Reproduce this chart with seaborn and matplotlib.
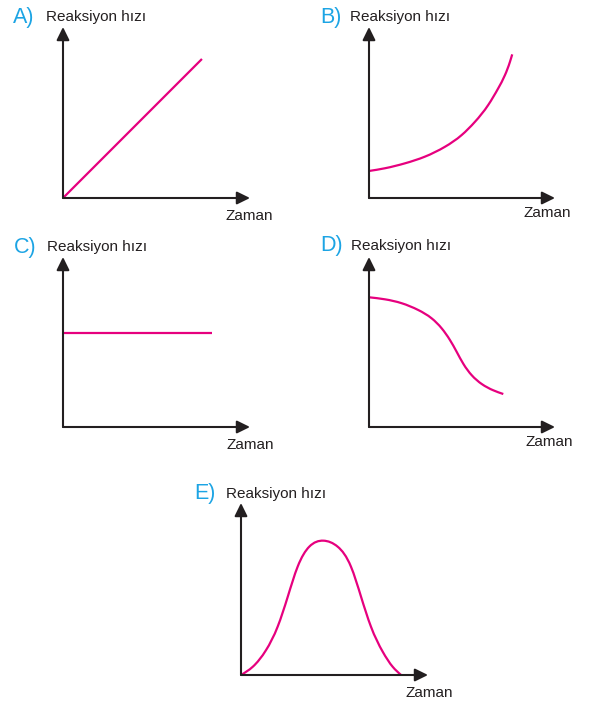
import matplotlib
matplotlib.use("Agg")
import matplotlib.pyplot as plt
from matplotlib.path import Path
from matplotlib.patches import PathPatch
import numpy as np
import seaborn as sns

sns.set_theme(style="white")
plt.rcParams["font.family"] = ["Liberation Sans", "DejaVu Sans"]

W, H = 589, 702
PINK = "#E6007E"
INK = "#231F20"
LETTER = "#1CA4E4"

y_label = "Reaksiyon hızı"
x_label = "Zaman"
options = ["A)", "B)", "C)", "D)", "E)"]

# Rate curves (x: time fraction, y: rate fraction of axis length)
a_x = [0.0, 0.743]
a_y = [0.0, 0.813]

b_x = [0.0, 0.086, 0.194, 0.301, 0.409, 0.498, 0.570, 0.641, 0.695, 0.731, 0.758, 0.770]
b_y = [0.158, 0.174, 0.203, 0.242, 0.300, 0.368, 0.446, 0.544, 0.642, 0.719, 0.797, 0.840]

c_x = [0.0, 0.797]
c_y = [0.553, 0.553]

d_x = [0.0, 0.086, 0.176, 0.265, 0.337, 0.391, 0.435, 0.471, 0.507, 0.552, 0.606, 0.668, 0.722]
d_y = [0.763, 0.751, 0.728, 0.688, 0.639, 0.580, 0.512, 0.443, 0.372, 0.305, 0.253, 0.216, 0.194]

e_x = [0.0, 0.063, 0.134, 0.196, 0.250, 0.303, 0.365, 0.440, 0.517, 0.588, 0.642, 0.695, 0.758, 0.811, 0.856]
e_y = [0.0, 0.048, 0.145, 0.281, 0.455, 0.630, 0.746, 0.781, 0.746, 0.630, 0.455, 0.281, 0.135, 0.048, 0.0]

series = [(a_x, a_y), (b_x, b_y), (c_x, c_y), (d_x, d_y), (e_x, e_y)]

# Panel layout in pixels: origin x, origin y, arrow length x, arrow length y
boxes = [
    (63, 198, 187, 171),
    (369, 198, 186, 171),
    (63, 427, 187, 170),
    (369, 427, 186, 170),
    (241, 675, 187, 172),
]
# Text anchors in pixels: option letter, y title, x title (left, vertical center)
letter_pos = [(13, 18), (320, 18), (14, 247), (320, 246), (194, 494)]
ytitle_pos = [(46, 17), (350, 17), (47, 247), (351, 246), (226, 494)]
xtitle_pos = [(226, 216), (523, 213), (227, 445), (526, 442), (406, 693)]


def fx(px):
    return px / W


def fy(py):
    return 1 - py / H


def spline_slopes(x, y):
    """Node derivatives of the natural cubic spline through (x, y)."""
    n = len(x)
    h = np.diff(x)
    s = np.diff(y) / h
    A = np.zeros((n, n))
    r = np.zeros(n)
    A[0, 0] = A[-1, -1] = 1.0
    for i in range(1, n - 1):
        A[i, i - 1] = h[i - 1]
        A[i, i] = 2 * (h[i - 1] + h[i])
        A[i, i + 1] = h[i]
        r[i] = 6 * (s[i] - s[i - 1])
    M = np.linalg.solve(A, r)
    m = np.empty(n)
    m[:-1] = s - h * (2 * M[:-1] + M[1:]) / 6
    m[-1] = s[-1] + h[-1] * (M[-2] + 2 * M[-1]) / 6
    return m


def smooth_path(xy):
    """Natural cubic spline through the points, as exact Bezier segments."""
    pts = np.asarray(xy, dtype=float)
    if len(pts) < 3:
        return Path(pts)
    x, y = pts[:, 0], pts[:, 1]
    m = spline_slopes(x, y)
    verts = [pts[0]]
    codes = [Path.MOVETO]
    for i in range(len(x) - 1):
        d = (x[i + 1] - x[i]) / 3
        verts += [(x[i] + d, y[i] + m[i] * d),
                  (x[i + 1] - d, y[i + 1] - m[i + 1] * d),
                  (x[i + 1], y[i + 1])]
        codes += [Path.CURVE4] * 3
    return Path(np.array(verts), codes)


fig = plt.figure(figsize=(W / 100, H / 100), dpi=100)

for (x0, y0, w, h), (xs, ys), lab, lp, yp, xp in zip(
    boxes, series, options, letter_pos, ytitle_pos, xtitle_pos
):
    ax = fig.add_axes([fx(x0), fy(y0), w / W, h / H])
    ax.set_xlim(0, 1)
    ax.set_ylim(0, 1)
    ax.axis("off")

    sns.lineplot(x=xs, y=ys, ax=ax, color=PINK, linewidth=1.6,
                 sort=False, estimator=None)
    # redraw the seaborn line as a smooth curve through its own vertices
    line = ax.lines[-1]
    xy = line.get_xydata()
    line.remove()
    ax.add_patch(PathPatch(smooth_path(xy), facecolor="none", edgecolor=PINK,
                           linewidth=1.6, clip_on=False, capstyle="butt"))

    arrow = dict(arrowstyle="-|>,head_length=0.65,head_width=0.32",
                 mutation_scale=12, lw=1.5, color=INK,
                 shrinkA=0, shrinkB=0)
    ax.annotate("", xy=(1, 0), xytext=(0, 0), xycoords="axes fraction",
                textcoords="axes fraction", arrowprops=arrow)
    ax.annotate("", xy=(0, 1), xytext=(0, 0), xycoords="axes fraction",
                textcoords="axes fraction", arrowprops=arrow)

    fig.text(fx(lp[0]), fy(lp[1]), lab, color=LETTER, fontsize=15.5,
             ha="left", va="center")
    fig.text(fx(yp[0]), fy(yp[1]), y_label, color=INK, fontsize=11,
             ha="left", va="center")
    fig.text(fx(xp[0]), fy(xp[1]), x_label, color=INK, fontsize=11,
             ha="left", va="center")

fig.savefig("out.png", dpi=100, facecolor="white")
